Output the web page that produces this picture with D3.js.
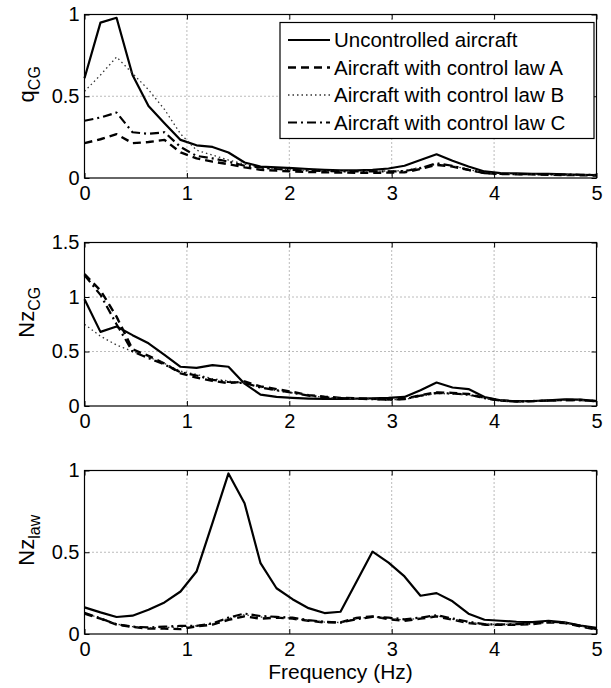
<!DOCTYPE html>
<html>
<head>
<meta charset="utf-8">
<script src="https://cdn.jsdelivr.net/npm/d3@7"></script>
<style>
  body { margin: 0; background: #fff; }
  svg { display: block; font-family: "Liberation Sans", Arial, sans-serif; }
</style>
</head>
<body>
<div id="chart"></div>
<script>
// frequency grid (Hz)
const freq = [0, 0.156, 0.313, 0.469, 0.625, 0.781, 0.938, 1.094, 1.25, 1.406, 1.563, 1.719, 1.875, 2.031, 2.188, 2.344, 2.5,
  2.656, 2.813, 2.969, 3.125, 3.281, 3.438, 3.594, 3.75, 3.906, 4.063, 4.219, 4.375, 4.531, 4.688, 4.844, 5];

const seriesNames = ["Uncontrolled aircraft", "Aircraft with control law A", "Aircraft with control law B", "Aircraft with control law C"];

// q_CG
const qcgUncontrolled = [0.61, 0.95, 0.98, 0.63, 0.44, 0.335, 0.233, 0.2, 0.19, 0.156, 0.095, 0.07, 0.065, 0.06, 0.055, 0.05, 0.047,
  0.047, 0.05, 0.058, 0.075, 0.11, 0.145, 0.105, 0.07, 0.04, 0.03, 0.028, 0.026, 0.025, 0.022, 0.02, 0.018];
const qcgLawA = [0.213, 0.237, 0.268, 0.213, 0.22, 0.233, 0.156, 0.12, 0.1, 0.085, 0.065, 0.05, 0.045, 0.04, 0.037, 0.035, 0.033,
  0.032, 0.032, 0.033, 0.035, 0.055, 0.08, 0.07, 0.05, 0.03, 0.025, 0.023, 0.022, 0.02, 0.018, 0.017, 0.015];
const qcgLawB = [0.53, 0.63, 0.74, 0.64, 0.54, 0.42, 0.27, 0.17, 0.14, 0.11, 0.085, 0.06, 0.055, 0.05, 0.047, 0.045, 0.043,
  0.042, 0.042, 0.043, 0.045, 0.065, 0.085, 0.075, 0.052, 0.032, 0.027, 0.025, 0.023, 0.022, 0.02, 0.019, 0.017];
const qcgLawC = [0.35, 0.37, 0.4, 0.28, 0.27, 0.28, 0.19, 0.135, 0.12, 0.1, 0.075, 0.065, 0.055, 0.05, 0.045, 0.042, 0.04,
  0.04, 0.04, 0.04, 0.042, 0.06, 0.09, 0.075, 0.05, 0.03, 0.025, 0.024, 0.023, 0.022, 0.021, 0.02, 0.02];

// Nz_CG
const nzcgUncontrolled = [0.98, 0.68, 0.73, 0.65, 0.575, 0.47, 0.36, 0.35, 0.375, 0.36, 0.205, 0.105, 0.083, 0.074, 0.068, 0.065, 0.065,
  0.068, 0.07, 0.074, 0.083, 0.145, 0.215, 0.17, 0.155, 0.083, 0.052, 0.043, 0.046, 0.052, 0.06, 0.058, 0.046];
const nzcgLawA = [1.21, 1.06, 0.82, 0.52, 0.46, 0.39, 0.3, 0.26, 0.23, 0.21, 0.225, 0.18, 0.155, 0.13, 0.1, 0.085, 0.075,
  0.07, 0.065, 0.06, 0.065, 0.1, 0.125, 0.12, 0.11, 0.075, 0.05, 0.043, 0.045, 0.05, 0.055, 0.055, 0.045];
const nzcgLawB = [0.75, 0.64, 0.56, 0.5, 0.45, 0.39, 0.32, 0.29, 0.25, 0.23, 0.21, 0.17, 0.14, 0.12, 0.095, 0.08, 0.072,
  0.068, 0.063, 0.058, 0.06, 0.09, 0.115, 0.11, 0.1, 0.07, 0.048, 0.042, 0.044, 0.048, 0.052, 0.053, 0.044];
const nzcgLawC = [1.2, 1.02, 0.75, 0.5, 0.44, 0.38, 0.31, 0.28, 0.24, 0.22, 0.21, 0.17, 0.145, 0.12, 0.095, 0.08, 0.072,
  0.067, 0.062, 0.057, 0.062, 0.095, 0.12, 0.115, 0.105, 0.072, 0.048, 0.042, 0.044, 0.05, 0.054, 0.054, 0.044];

// Nz_law
const nzlawUncontrolled = [0.163, 0.132, 0.104, 0.112, 0.148, 0.193, 0.26, 0.382, 0.68, 0.982, 0.8, 0.433, 0.28, 0.213, 0.158, 0.128, 0.136,
  0.32, 0.504, 0.437, 0.352, 0.234, 0.25, 0.2, 0.124, 0.087, 0.081, 0.075, 0.073, 0.081, 0.071, 0.051, 0.037];
const nzlawLawA = [0.124, 0.094, 0.057, 0.043, 0.033, 0.033, 0.03, 0.047, 0.057, 0.087, 0.108, 0.094, 0.1, 0.094, 0.081, 0.071, 0.071,
  0.098, 0.108, 0.091, 0.081, 0.094, 0.108, 0.087, 0.067, 0.057, 0.057, 0.057, 0.061, 0.071, 0.067, 0.047, 0.026];
const nzlawLawB = [0.128, 0.097, 0.06, 0.045, 0.038, 0.04, 0.042, 0.05, 0.062, 0.095, 0.118, 0.104, 0.102, 0.097, 0.083, 0.073, 0.07,
  0.094, 0.106, 0.095, 0.086, 0.097, 0.112, 0.09, 0.07, 0.058, 0.058, 0.059, 0.063, 0.073, 0.069, 0.049, 0.028];
const nzlawLawC = [0.13, 0.095, 0.06, 0.045, 0.04, 0.045, 0.05, 0.05, 0.065, 0.1, 0.125, 0.11, 0.105, 0.1, 0.085, 0.075, 0.07,
  0.09, 0.105, 0.1, 0.09, 0.1, 0.115, 0.095, 0.075, 0.06, 0.058, 0.06, 0.065, 0.075, 0.07, 0.05, 0.03];

const xTicks = [0, 1, 2, 3, 4, 5];
const yTicksQ = [0, 0.5, 1];
const yTicksNzcg = [0, 0.5, 1, 1.5];
const yTicksNzlaw = [0, 0.5, 1];

// line styles for the four series
const styles = [
  { dash: null, width: 2.2, color: "#000" },
  { dash: "8,5", width: 2.4, color: "#000" },
  { dash: "1.5,3", width: 1.3, color: "#333" },
  { dash: "9,4,2,4", width: 2.2, color: "#000" },
];

const panels = [
  { label: "q", sub: "CG", ymax: 1, ticks: yTicksQ, top: 14.5, bottom: 178,
    series: [qcgUncontrolled, qcgLawA, qcgLawB, qcgLawC], legend: true },
  { label: "Nz", sub: "CG", ymax: 1.5, ticks: yTicksNzcg, top: 242.5, bottom: 406,
    series: [nzcgUncontrolled, nzcgLawA, nzcgLawB, nzcgLawC] },
  { label: "Nz", sub: "law", ymax: 1, ticks: yTicksNzlaw, top: 470.5, bottom: 634,
    series: [nzlawUncontrolled, nzlawLawA, nzlawLawB, nzlawLawC], xlabel: "Frequency (Hz)" },
];

const width = 611;
const height = 688;
const marginLeft = 84.5;
const marginRight = 14.5;
const tickFont = 20;
const labelFont = 21;

const svg = d3.select("#chart").append("svg")
  .attr("width", width)
  .attr("height", height)
  .attr("viewBox", [0, 0, width, height]);

const x = d3.scaleLinear().domain([0, 5]).range([marginLeft, width - marginRight]);

panels.forEach((p) => {
  const y = d3.scaleLinear().domain([0, p.ymax]).range([p.bottom, p.top]);
  const g = svg.append("g");

  // dotted grid
  g.append("g")
    .selectAll("line")
    .data(xTicks.slice(1, -1))
    .join("line")
    .attr("x1", (d) => x(d)).attr("x2", (d) => x(d))
    .attr("y1", p.top).attr("y2", p.bottom)
    .attr("stroke", "#555").attr("stroke-width", 0.8).attr("stroke-dasharray", "1,3");
  g.append("g")
    .selectAll("line")
    .data(p.ticks.slice(1, -1))
    .join("line")
    .attr("x1", x(0)).attr("x2", x(5))
    .attr("y1", (d) => y(d)).attr("y2", (d) => y(d))
    .attr("stroke", "#555").attr("stroke-width", 0.8).attr("stroke-dasharray", "1,3");

  // curves
  const line = d3.line().x((d) => x(d[0])).y((d) => y(d[1]));
  p.series.forEach((vals, si) => {
    const st = styles[si];
    g.append("path")
      .datum(freq.map((f, i) => [f, vals[i]]))
      .attr("fill", "none")
      .attr("stroke", st.color)
      .attr("stroke-width", st.width)
      .attr("stroke-linejoin", "round")
      .attr("stroke-dasharray", st.dash)
      .attr("d", line);
  });

  // axes, ticks pointing inward on all four sides
  const styleAxis = (a) => {
    a.select(".domain").remove();
    a.selectAll(".tick line").attr("stroke", "#000").attr("stroke-width", 1);
    a.selectAll("text").attr("font-size", tickFont).attr("fill", "#000")
      .attr("font-family", "Liberation Sans, Arial, sans-serif");
  };
  g.append("g")
    .attr("transform", `translate(0,${p.bottom})`)
    .call(d3.axisBottom(x).tickValues(xTicks).tickFormat(d3.format("d")).tickSize(-5).tickPadding(7))
    .call(styleAxis)
    .call((a) => a.selectAll("text").attr("dy", "0.74em"));
  g.append("g")
    .attr("transform", `translate(0,${p.top})`)
    .call(d3.axisTop(x).tickValues(xTicks).tickSize(-5).tickFormat(""))
    .call(styleAxis);
  g.append("g")
    .attr("transform", `translate(${x(0)},0)`)
    .call(d3.axisLeft(y).tickValues(p.ticks).tickFormat((d) => d3.format("")(d)).tickSize(-5).tickPadding(5))
    .call(styleAxis);
  g.append("g")
    .attr("transform", `translate(${x(5)},0)`)
    .call(d3.axisRight(y).tickValues(p.ticks).tickSize(-5).tickFormat(""))
    .call(styleAxis);

  // box
  g.append("rect")
    .attr("x", x(0)).attr("y", p.top)
    .attr("width", x(5) - x(0)).attr("height", p.bottom - p.top)
    .attr("fill", "none").attr("stroke", "#000").attr("stroke-width", 1.2);

  // y label with subscript
  const yl = g.append("text")
    .attr("transform", `translate(34,${(p.top + p.bottom) / 2 - 12}) rotate(-90)`)
    .attr("text-anchor", "middle")
    .attr("font-size", labelFont + 1)
    .attr("fill", "#000");
  yl.append("tspan").text(p.label);
  yl.append("tspan").attr("font-size", 16).attr("dy", 6).text(p.sub);

  if (p.xlabel) {
    svg.append("text")
      .attr("x", (x(0) + x(5)) / 2)
      .attr("y", p.bottom + 45)
      .attr("text-anchor", "middle")
      .attr("font-size", labelFont)
      .attr("fill", "#000")
      .text(p.xlabel);
  }

  if (p.legend) {
    const lx = 280, ly = 22.5, lw = 314, lh = 116, rowH = 27.5;
    const lg = svg.append("g");
    lg.append("rect")
      .attr("x", lx).attr("y", ly).attr("width", lw).attr("height", lh)
      .attr("fill", "#fff").attr("stroke", "#000").attr("stroke-width", 1.2);
    seriesNames.forEach((name, i) => {
      const cy = ly + 17.5 + i * rowH;
      const st = styles[i];
      lg.append("line")
        .attr("x1", lx + 8).attr("x2", lx + 50)
        .attr("y1", cy).attr("y2", cy)
        .attr("stroke", st.color).attr("stroke-width", st.width)
        .attr("stroke-dasharray", st.dash);
      lg.append("text")
        .attr("x", lx + 54).attr("y", cy)
        .attr("dy", "0.35em")
        .attr("font-size", labelFont - 0.5)
        .attr("fill", "#000")
        .text(name);
    });
  }
});
</script>
</body>
</html>
